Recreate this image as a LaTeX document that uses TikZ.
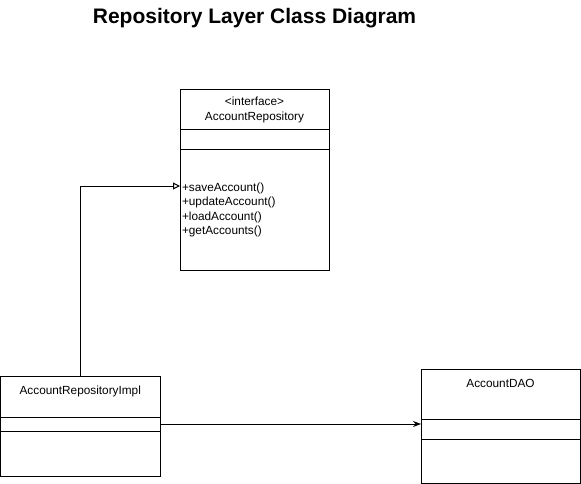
\documentclass[tikz,border=0pt]{standalone}
\usepackage{fontspec}
\setmainfont{Liberation Sans}
\usetikzlibrary{arrows.meta, positioning, calc}

\begin{document}
\begin{tikzpicture}[
      x=1pt, y=-1pt, line width=1pt,
      cls/.style={draw, rectangle, inner sep=0pt, outer sep=0pt,
                  font=\fontsize{11.8}{14.5}\selectfont},
      arr/.style={-{Stealth[length=8pt, width=6pt]}},
      realize/.style={-{Triangle[open, length=7pt, width=7pt]}}
    ]
      \useasboundingbox (0,0) rectangle (581,484);
      \node[font=\bfseries\fontsize{21}{25}\selectfont] (title) at (254.5,18) {Repository Layer Class Diagram};

      % interface
      \node[cls, minimum width=149pt, minimum height=40pt, align=center] (repoHead) at (254.5,110) {<interface>\\AccountRepository};
      \node[cls, minimum width=149pt, minimum height=20pt, below=0pt of repoHead] (repoAttr) {};
      \node[cls, minimum width=149pt, minimum height=120pt, text width=145pt, align=left,
            below=0pt of repoAttr] (repoOps) {+saveAccount()\\+updateAccount()\\+loadAccount()\\+getAccounts()\\[-6pt]};

      % implementation
      \node[cls, minimum width=159.5pt, text height=18pt, text depth=23pt, anchor=north] (implHead) at (80.25,376) {AccountRepositoryImpl};
      \node[cls, minimum width=159.5pt, minimum height=14pt, below=0pt of implHead] (implAttr) {};
      \node[cls, minimum width=159.5pt, minimum height=45pt, below=0pt of implAttr] (implOps) {};

      % dao
      \node[cls, minimum width=159pt, text height=18pt, text depth=32pt, anchor=north] (daoHead) at (500.5,369) {AccountDAO};
      \node[cls, minimum width=159pt, minimum height=20pt, below=0pt of daoHead] (daoAttr) {};
      \node[cls, minimum width=159pt, minimum height=44pt, below=0pt of daoAttr] (daoOps) {};

      \draw[realize] (implHead.north) |- ($(repoOps.west)+(0,-24)$);
      \draw[arr] (implAttr.east) -- (implAttr.east -| daoHead.west);
    \end{tikzpicture}
\end{document}
